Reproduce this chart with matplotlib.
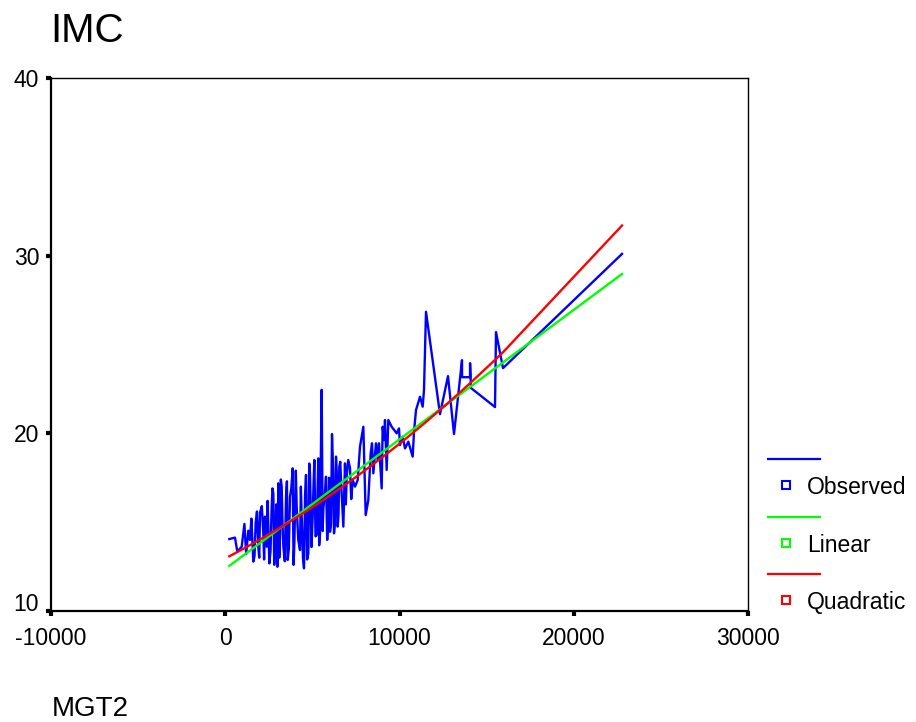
import matplotlib
matplotlib.use("Agg")
import matplotlib.pyplot as plt
from matplotlib.lines import Line2D
from matplotlib.transforms import ScaledTranslation
import numpy as np

plt.rcParams["font.family"] = ["Liberation Sans", "DejaVu Sans"]
plt.rcParams["axes.unicode_minus"] = False

# observed IMC vs MGT2
MGT2 = [232, 560, 692, 944, 1323, 1420, 1611, 1746, 1898, 1994, 2185, 2281, 2377, 2530,
        2664, 2760, 2855, 2989, 3047, 3142, 3238, 3334, 3487, 3583, 3716, 3870, 3966, 4099,
        4290, 4386, 4520, 4634, 4768, 4864, 5017, 5113, 5247, 5342, 5438, 5534, 5630, 5782,
        5916, 6012, 6126, 6241, 6356, 6452, 6547, 6662, 6777, 6872, 6968, 7160, 7313, 7446,
        7600, 7733, 7925, 8059, 8211, 8345, 8422, 8498, 8651, 8747, 8823, 8977, 9034, 9111,
        9168, 9264, 9359, 9551, 9838, 9971, 10029, 10182, 10316, 10507, 10756, 10832, 10947,
        11177, 11330, 11406, 11521, 12324, 12783, 13128, 13587, 13590, 14046, 14050, 14103,
        15481, 15538, 15940, 22770]
IMC = [14.05, 14.13, 13.34, 13.62, 14.52, 14.0, 12.78, 14.97, 13.62, 15.53, 14.37, 15.31,
       13.62, 12.68, 15.87, 16.62, 13.62, 12.49, 17.19, 14.18, 17.0, 13.62, 16.43, 12.87,
       16.43, 18.03, 13.81, 15.87, 13.43, 15.31, 12.40, 17.66, 13.25, 17.75, 15.31, 18.50,
       14.28, 18.59, 14.37, 22.45, 15.78, 17.56, 15.31, 14.46, 19.96, 14.37, 18.69, 14.75,
       18.12, 17.0, 14.75, 18.31, 17.56, 18.03, 17.37, 17.0, 17.37, 19.25, 20.37, 15.40,
       16.25, 18.87, 19.44, 17.75, 19.44, 18.50, 19.44, 16.90, 20.37, 19.62, 20.75, 17.94,
       20.75, 20.37, 20.0, 20.28, 19.34, 19.81, 19.15, 19.53, 18.69, 20.09, 21.31, 22.06,
       21.50, 22.45, 26.84, 21.08, 23.22, 19.96, 24.12, 23.16, 23.16, 23.95, 22.55, 21.48,
       25.70, 23.67, 30.10]
# extra cases inside the dense cluster (1000-7300)
MGT2_DENSE = [1100, 1200, 1500, 1680, 1820, 1950, 2100, 2230, 2430, 2600, 2710, 2810, 2930,
              3100, 3190, 3290, 3420, 3540, 3650, 3790, 3920, 4050, 4190, 4340, 4460, 4580,
              4700, 4820, 4950, 5070, 5180, 5300, 5390, 5480, 5590, 5700, 5850, 5960, 6070,
              6190, 6300, 6400, 6500, 6600, 6720, 6920, 7060, 7230]
IMC_DENSE = [14.9, 13.2, 15.2, 13.1, 15.6, 13.0, 15.9, 12.9, 16.2, 13.4, 16.9, 12.6, 16.0,
             13.0, 17.4, 14.8, 12.8, 17.3, 13.5, 16.9, 12.6, 17.9, 14.0, 17.0, 13.0, 16.5,
             12.9, 18.3, 13.6, 17.2, 14.2, 16.9, 13.7, 18.2, 14.5, 16.4, 14.0, 17.5, 14.9,
             18.0, 15.0, 17.8, 15.4, 18.4, 15.9, 16.0, 18.5, 16.3]

# fitted models (coefficients)
LINEAR_COEF = [12.37, 0.729e-3]                  # b0, b1
QUAD_COEF = [12.96, 0.5068e-3, 0.01388e-6]       # b0, b1, b2

X_TICKS = [-10000, 0, 10000, 20000, 30000]
Y_TICKS = [10, 20, 30, 40]
LEGEND = [("Observed", "#0000ff"), ("Linear", "#00ff00"), ("Quadratic", "#ff0000")]

x = np.array(MGT2 + MGT2_DENSE, dtype=float)
y = np.array(IMC + IMC_DENSE, dtype=float)
order = np.argsort(x, kind="stable")
x, y = x[order], y[order]
lin = LINEAR_COEF[0] + LINEAR_COEF[1] * x
quad = QUAD_COEF[0] + QUAD_COEF[1] * x + QUAD_COEF[2] * x ** 2

W, H = 916, 722
fig = plt.figure(figsize=(W / 100, H / 100), dpi=100)
ax = fig.add_axes([51 / W, 1 - 611 / H, 697 / W, 533 / H])

ax.plot(x, y, color=LEGEND[0][1], lw=1.7, zorder=2)
ax.plot(x, lin, color=LEGEND[1][1], lw=1.7, zorder=3)
ax.plot(x, quad, color=LEGEND[2][1], lw=1.7, zorder=4)

ax.set_xlim(-10000, 30000)
ax.set_ylim(10, 40)
ax.set_xticks(X_TICKS)
ax.set_yticks(Y_TICKS)
ax.set_xticklabels([str(v) for v in X_TICKS])
ax.set_yticklabels([str(v) for v in Y_TICKS])
ax.tick_params(direction="out", length=3.5, width=3, labelsize=16.5, colors="black", pad=5)
ax.tick_params(axis="x", pad=8)
for side in ["left", "bottom"]:
    ax.spines[side].set_linewidth(1.6)
for side in ["top", "right"]:
    ax.spines[side].set_linewidth(1.0)

# SPSS lifts the lowest y label off the corner
lab10 = ax.yaxis.get_major_ticks()[0].label1
lab10.set_transform(lab10.get_transform() + ScaledTranslation(0, 0.09, fig.dpi_scale_trans))

fig.text(50 / W, 1 - 42 / H, "IMC", fontsize=29, va="baseline", ha="left")
fig.text(52 / W, 1 - 716 / H, "MGT2", fontsize=20, va="baseline", ha="left")

# legend: line sample above, small square + label below
line_y = [459, 517, 574]
for (name, col), ly in zip(LEGEND, line_y):
    fig.add_artist(Line2D([768 / W, 820 / W], [1 - ly / H] * 2, color=col, lw=1.6,
                          transform=fig.transFigure))
    fig.add_artist(Line2D([786 / W], [1 - (ly + 26) / H], marker="s", ms=6, mfc="white",
                          mec=col, mew=1.5, ls="none", transform=fig.transFigure))
    fig.text(807 / W, 1 - (ly + 29) / H, name, fontsize=16.5, va="center", ha="left")

fig.savefig("out.png", dpi=100)
